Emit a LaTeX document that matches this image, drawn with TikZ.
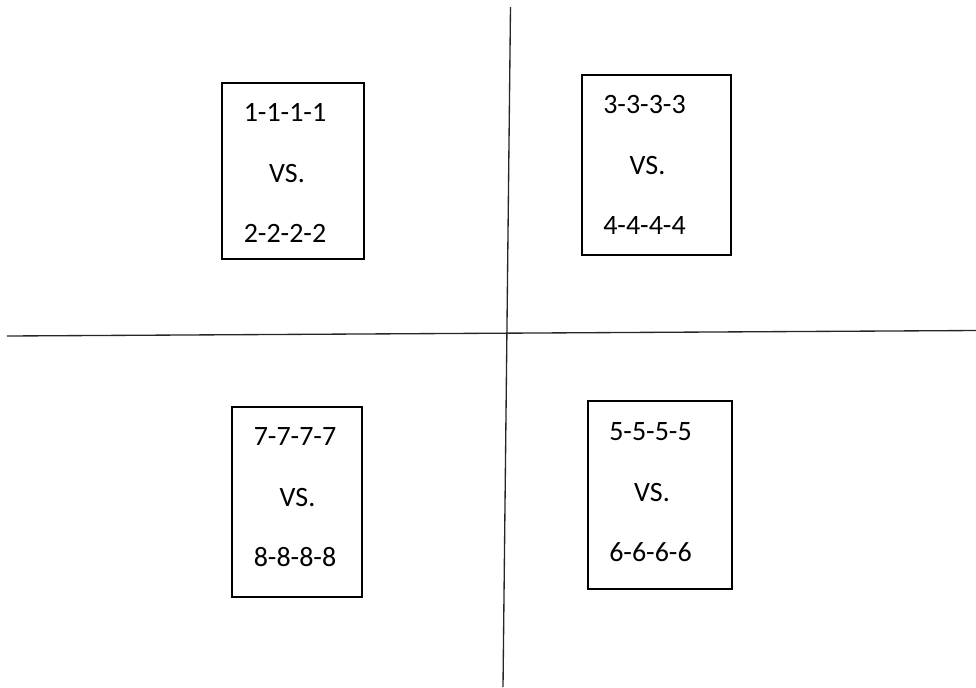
\documentclass[tikz,border=0pt]{standalone}
\usepackage{fontspec}
\setmainfont{Carlito}
\usetikzlibrary{positioning}
\tikzset{
  vsbox/.style={draw,line width=1.5pt,inner sep=0pt},
  vstext/.style={anchor=base,inner sep=0pt,font=\fontsize{21}{25}\selectfont},
  cross/.style={line width=1pt,black!85}
}

\begin{document}
\begin{tikzpicture}[x=0.75pt,y=-0.75pt]
\useasboundingbox (0,0) rectangle (976,687);
% the two dividing lines
\coordinate (north) at (510.5,7);
\coordinate (south) at (503,687);
\coordinate (west) at (7,336);
\coordinate (east) at (976,330.5);
\draw[cross] (north) -- (south);
\draw[cross] (west) -- (east);
% one box per quadrant: name/centre/size/text x/vs x/first baseline/texts
\foreach \nm/\cx/\cy/\w/\h/\tx/\vx/\ya/\ta/\tb in {
  a/293/171/142/176/285/287/121/1-1-1-1/2-2-2-2,
  b/656.5/165/149/180/644.5/647.5/113/3-3-3-3/4-4-4-4,
  c/297/502/130/190/295/297.5/445/7-7-7-7/8-8-8-8,
  d/660/495/144/188/650.5/652/440/5-5-5-5/6-6-6-6}{
  \node[vsbox,minimum width=\w*0.75pt,minimum height=\h*0.75pt] (box\nm) at (\cx,\cy) {};
  \node[vstext] (first\nm) at (\tx,\ya) {\ta};
  \node[vstext] (vs\nm) at (\vx,\ya+61) {VS.};
  \node[vstext] (second\nm) at (\tx,\ya+121) {\tb};
}
\end{tikzpicture}
\end{document}
